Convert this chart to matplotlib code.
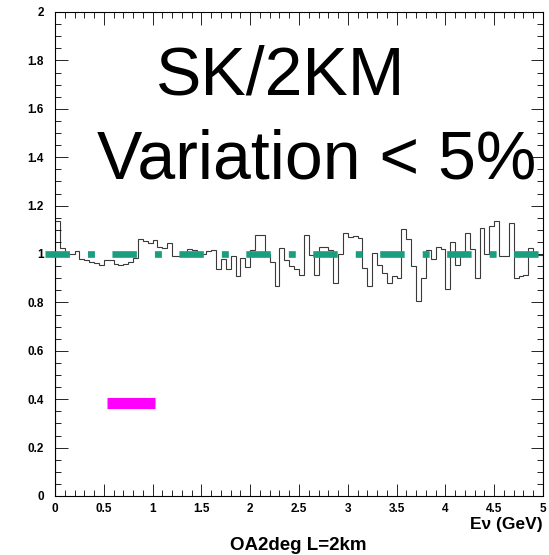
import numpy as np
import matplotlib.pyplot as plt
from matplotlib.ticker import MultipleLocator

# ratio SK / 2km, 100 bins of 50 MeV between 0 and 5 GeV
e_min, e_max, n_bins = 0.0, 5.0, 100
ratio = [1.135, 1.025, 1.0, 1.0, 1.014, 0.98, 0.975, 0.967, 0.963, 0.953,
         0.975, 0.975, 0.959, 0.953, 0.957, 0.967, 0.983, 1.06, 1.055, 1.044,
         1.058, 1.03, 1.025, 1.044, 0.99, 0.99, 0.995, 1.022, 1.018, 1.003,
         1.0, 1.011, 1.018, 0.937, 0.98, 0.94, 0.99, 0.908, 0.983, 0.946,
         1.018, 1.077, 1.077, 1.0, 0.967, 0.868, 1.026, 0.974, 0.95, 0.94,
         0.912, 1.077, 0.997, 0.915, 1.03, 1.028, 1.015, 0.88, 1.0, 1.087,
         1.07, 1.073, 1.066, 0.942, 0.868, 1.005, 0.956, 0.923, 0.88, 0.909,
         0.9, 1.105, 1.06, 0.95, 0.804, 0.9, 1.015, 0.98, 1.03, 1.02,
         0.857, 1.05, 0.956, 1.01, 1.088, 1.02, 0.9, 1.107, 1.0, 1.116,
         1.135, 0.99, 0.99, 1.13, 0.9, 0.909, 0.915, 1.026, 0.995, 0.995]
ref_level = 1.0
ref_x = [-0.1, 4.99]
bar_x = [0.53, 1.02]
bar_y = 0.383
ytick_labels = ["0", "0.2", "0.4", "0.6", "0.8", "1", "1.2", "1.4", "1.6", "1.8", "2"]
xtick_labels = ["0", "0.5", "1", "1.5", "2", "2.5", "3", "3.5", "4", "4.5", "5"]

plt.rcParams['lines.scale_dashes'] = False
fig = plt.figure(figsize=(5.49, 5.55), dpi=100)
ax = fig.add_axes([55/549, 59/555, 488/549, 484/555])

edges = np.linspace(e_min, e_max, n_bins + 1)
ax.stairs(ratio, edges, color='#3a3a3a', lw=0.8)

# dashed reference at 1
ax.plot(ref_x, [ref_level, ref_level], color='#1a9e80', lw=4.8,
        linestyle=(0, (17.6, 13.0, 5.0, 12.6)), clip_on=False, zorder=4)
ax.plot(bar_x, [bar_y, bar_y], color='#ff00ff', lw=8, solid_capstyle='butt', zorder=4)

ax.set_xlim(0, 5)
ax.set_ylim(0, 2)
ax.xaxis.set_major_locator(MultipleLocator(0.5))
ax.xaxis.set_minor_locator(MultipleLocator(0.1))
ax.yaxis.set_major_locator(MultipleLocator(0.2))
ax.yaxis.set_minor_locator(MultipleLocator(0.05))
ax.set_xticks(np.arange(0, 5.01, 0.5), xtick_labels)
ax.set_yticks(np.arange(0, 2.01, 0.2), ytick_labels)
ax.tick_params(which='both', direction='in', top=True, right=True, width=0.6)
ax.tick_params(which='major', length=9)
ax.tick_params(which='minor', length=4.5)
ax.tick_params(axis='y', pad=8)
ax.tick_params(axis='x', pad=5)
for lab in ax.get_xticklabels() + ax.get_yticklabels():
    lab.set_fontfamily('Liberation Sans')
    lab.set_fontweight('bold')
    lab.set_fontsize(8.5)
for sp in ax.spines.values():
    sp.set_linewidth(0.8)

ax.text(1.03, 1.66, "SK/2KM", fontsize=49, family='Liberation Sans', va='baseline')
ax.text(0.43, 1.31, "Variation < 5%", fontsize=49, family='Liberation Sans', va='baseline')

fig.text(543/549, 1 - 529/555, "Eν (GeV)", ha='right', va='baseline',
         fontsize=12.5, fontweight='bold', family='Liberation Sans')
fig.text(298/549, 1 - 550/555, "OA2deg L=2km", ha='center', va='baseline',
         fontsize=13.5, fontweight='bold', family='Liberation Sans')

fig.savefig("out.png", dpi=100)
